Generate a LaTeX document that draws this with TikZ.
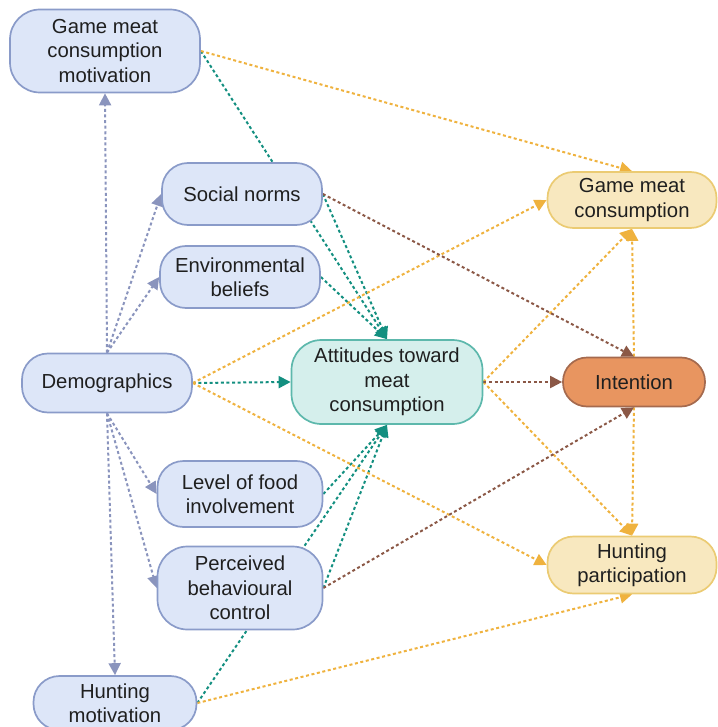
\documentclass[tikz,border=0pt]{standalone}
\usepackage{fontspec}
\setmainfont{Liberation Sans}
\usetikzlibrary{arrows.meta,positioning,backgrounds}

\definecolor{boxblue}{HTML}{DDE6F8}
\definecolor{lineblue}{HTML}{8A9BC9}
\definecolor{slate}{HTML}{8A94BD}
\definecolor{boxteal}{HTML}{D5EFEC}
\definecolor{lineteal}{HTML}{5DB8AC}
\definecolor{darkteal}{HTML}{138F80}
\definecolor{boxsand}{HTML}{F8E8BF}
\definecolor{linesand}{HTML}{EBCB73}
\definecolor{amber}{HTML}{EFB23E}
\definecolor{boxclay}{HTML}{E89560}
\definecolor{lineclay}{HTML}{A56A4E}
\definecolor{umber}{HTML}{8B5846}

\begin{document}
\begin{tikzpicture}[x=1pt, y=-1pt,
    box/.style={draw, line width=1.7pt, rounded corners=26pt, align=center,
      inner sep=0pt, text=black!88, font=\fontsize{20.3}{24.5}\selectfont},
    factor/.style={box, fill=boxblue, draw=lineblue},
    attitude/.style={box, fill=boxteal, draw=lineteal},
    outcome/.style={box, fill=boxsand, draw=linesand},
    intent/.style={box, fill=boxclay, draw=lineclay, rounded corners=24pt},
    tall/.style={rounded corners=30pt},
    link/.style={line width=2pt, dash pattern=on 3pt off 2.6pt,
      -{Triangle[length=12pt, width=12pt]}},
    demlink/.style={link, slate},
    attlink/.style={link, darkteal},
    gamelink/.style={link, amber},
    intlink/.style={link, umber}]
  \useasboundingbox (0,0) rectangle (717,727);

  % left column
  \node [factor, tall, minimum width=190pt, minimum height=83pt] (gmcm) at (105,51)
    {Game meat\\consumption\\motivation};
  \node [factor, minimum width=170pt, minimum height=59pt] (dem) at (107,383)
    {Demographics};
  \node [factor, minimum width=163pt, minimum height=54pt] (hm) at (115,703)
    {Hunting\\motivation};

  % middle column
  \node [factor, minimum width=160pt, minimum height=62pt] (sn) at (242,194)
    {Social norms};
  \node [factor, minimum width=160pt, minimum height=62pt] (eb) at (240,277)
    {Environmental\\beliefs};
  \node [factor, minimum width=165pt, minimum height=66pt] (lfi) at (240,494)
    {Level of food\\involvement};
  \node [factor, tall, minimum width=165pt, minimum height=83pt] (pbc) at (240,588)
    {Perceived\\behavioural\\control};
  \node [attitude, tall, minimum width=191pt, minimum height=84pt] (att) at (387,382)
    {Attitudes toward\\meat\\consumption};

  % right column
  \node [intent, minimum width=142pt, minimum height=49pt] (int) at (634,382)
    {Intention};
  \node [outcome, minimum width=169pt, minimum height=56pt] (gmc) at (632,200)
    {Game meat\\consumption};
  \node [outcome, minimum width=169pt, minimum height=57pt] (hp) at (632,565)
    {Hunting\\participation};

  \begin{scope}[on background layer]
    % demographics
    \draw [demlink] (dem.north) -- (gmcm.south);
    \draw [demlink] (dem.north) -- (sn.west);
    \draw [demlink] (dem.north) -- (eb.west);
    \draw [demlink] (dem.south) -- (lfi.west);
    \draw [demlink] (dem.south) -- (pbc.west);
    \draw [demlink] (dem.south) -- (hm.north);
    % attitudes
    \draw [attlink] (gmcm.east) -- (att.north);
    \draw [attlink] (sn.east) -- (att.north);
    \draw [attlink] (eb.east) -- (att.north);
    \draw [attlink] (dem.east) -- (att.west);
    \draw [attlink] (lfi.east) -- (att.south);
    \draw [attlink] (pbc.east) -- (att.south);
    \draw [attlink] (hm.east) -- (att.south);
    % outcomes
    \draw [gamelink] (gmcm.east) -- (gmc.north);
    \draw [gamelink] (dem.east) -- (gmc.west);
    \draw [gamelink] (att.east) -- (gmc.south);
    \draw [gamelink] (int.north) -- (gmc.south);
    \draw [gamelink] (dem.east) -- (hp.west);
    \draw [gamelink] (att.east) -- (hp.north);
    \draw [gamelink] (int.south) -- (hp.north);
    \draw [gamelink] (hm.east) -- (hp.south);
    % intention
    \draw [intlink] (sn.east) -- (int.north);
    \draw [intlink] (att.east) -- (int.west);
    \draw [intlink] (pbc.east) -- (int.south);
  \end{scope}
\end{tikzpicture}
\end{document}
